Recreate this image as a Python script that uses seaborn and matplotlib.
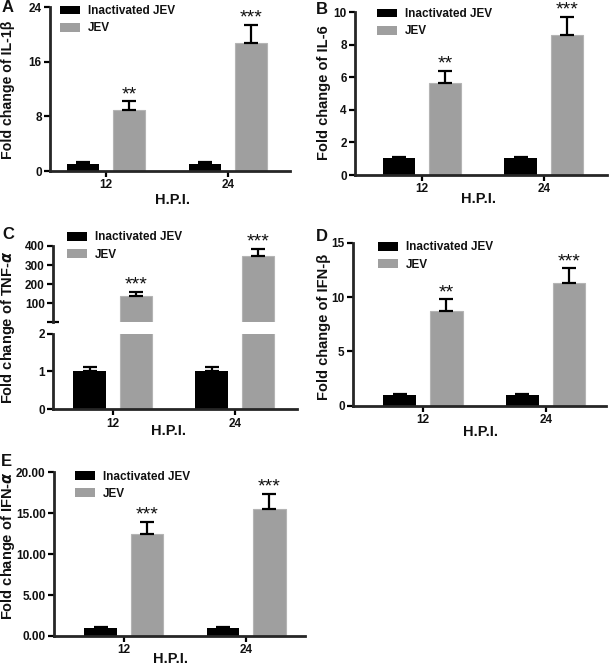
import numpy as np
import pandas as pd
import matplotlib
matplotlib.use('Agg')
import matplotlib.pyplot as plt
import matplotlib.ticker as ticker
import seaborn as sns

sns.set_style('ticks')
plt.rcParams['font.family'] = ['Liberation Sans', 'DejaVu Sans']
plt.rcParams['font.weight'] = 'bold'
plt.rcParams['text.color'] = '#111111'
plt.rcParams['xtick.color'] = 'black'
plt.rcParams['ytick.color'] = 'black'
plt.rcParams['xtick.labelcolor'] = '#111111'
plt.rcParams['ytick.labelcolor'] = '#111111'

# data
hpi = ['12', '24']
groups = ['Inactivated JEV', 'JEV']

il1b_inact = [1.05, 1.05]
il1b_inact_sem = [0.2, 0.2]
il1b_jev = [9.0, 18.8]
il1b_jev_sem = [1.2, 2.6]
il1b_stars = ['**', '***']

il6_inact = [1.02, 1.02]
il6_inact_sem = [0.1, 0.1]
il6_jev = [5.67, 8.59]
il6_jev_sem = [0.74, 1.14]
il6_stars = ['**', '***']

tnf_inact = [1.02, 1.02]
tnf_inact_sem = [0.1, 0.1]
tnf_jev = [138, 347]
tnf_jev_sem = [22, 39]
tnf_stars = ['***', '***']

ifnb_inact = [1.0, 1.0]
ifnb_inact_sem = [0.1, 0.1]
ifnb_jev = [8.74, 11.26]
ifnb_jev_sem = [1.05, 1.38]
ifnb_stars = ['**', '***']

ifna_inact = [1.0, 1.0]
ifna_inact_sem = [0.1, 0.1]
ifna_jev = [12.43, 15.56]
ifna_jev_sem = [1.54, 1.8]
ifna_stars = ['***', '***']

W, H = 609, 670
BLACK = '#000000'
GRAY = '#9f9f9f'

fig = plt.figure(figsize=(W / 100, H / 100), dpi=100)


def rect(left, top, right, bottom):
    return [left / W, 1 - bottom / H, (right - left) / W, (bottom - top) / H]


def draw_bars(ax, inact, inact_sem, jev, jev_sem, stars=None, err_for=(0, 1)):
    df = pd.DataFrame({'hpi': hpi * 2,
                       'group': [groups[0]] * 2 + [groups[1]] * 2,
                       'fold': inact + jev})
    sns.barplot(data=df, x='hpi', y='fold', hue='group', order=hpi,
                hue_order=groups, palette=[BLACK, GRAY], saturation=1,
                width=0.76, gap=0.3, errorbar=None, linewidth=0, ax=ax)
    conts = list(ax.containers[:2])
    for b in conts[1]:
        b.set_edgecolor('#b4b4b4')
        b.set_linewidth(0.8)
    sems = [inact_sem, jev_sem]
    for i in err_for:
        cont = conts[i]
        xs = [b.get_x() + b.get_width() / 2 for b in cont]
        ys = [b.get_height() for b in cont]
        ax.errorbar(xs, ys, yerr=[np.zeros(len(sems[i])), sems[i]], fmt='none',
                    ecolor='black', elinewidth=1.6, capsize=5, capthick=1.6,
                    zorder=1)
    if stars is not None:
        xs = [b.get_x() + b.get_width() / 2 for b in conts[1]]
        ys = [b.get_height() for b in conts[1]]
        for x, y, e, s in zip(xs, ys, jev_sem, stars):
            ax.annotate(s, xy=(x, y + e), xytext=(0, 1.5),
                        textcoords='offset points', ha='center',
                        va='baseline', fontsize=14, fontweight='normal')
    ax.set_xlabel('')
    ax.set_ylabel('')


def style_axes(ax, xlim):
    sns.despine(ax=ax)
    ax.spines['left'].set_linewidth(2)
    ax.spines['bottom'].set_linewidth(2)
    ax.tick_params(axis='both', width=1.6, length=4, labelsize=8.5, pad=2)
    ax.set_xlim(xlim)


def set_legend(ax, x, y):
    leg = ax.get_legend()
    handles = leg.legend_handles
    labels = [t.get_text() for t in leg.get_texts()]
    ax.legend(handles, labels, loc='upper left',
              bbox_to_anchor=(x / W, 1 - y / H), bbox_transform=fig.transFigure,
              frameon=False, prop={'weight': 'bold', 'size': 8.5},
              handlelength=1.7, handleheight=0.75, handletextpad=0.7,
              labelspacing=0.45, borderpad=0, borderaxespad=0)


def label(x, y, s, rot=0, size=10.5):
    fig.text(x / W, 1 - y / H, s, rotation=rot, ha='center', va='center',
             fontsize=size, fontweight='bold')


def letter(x, y, s):
    fig.text(x / W, 1 - y / H, s, ha='left', va='top', fontsize=12,
             fontweight='bold')


# A
ax = fig.add_axes(rect(50, 7, 290, 171))
draw_bars(ax, il1b_inact, il1b_inact_sem, il1b_jev, il1b_jev_sem, il1b_stars)
style_axes(ax, (-0.46, 1.51))
ax.set_ylim(0, 24)
ax.set_yticks([0, 8, 16, 24])
set_legend(ax, 60, 5)
label(8, 90, 'Fold change of IL-1β', rot=90, size=10.2)
label(172, 200, 'H.P.I.')
letter(2, 0, 'A')

# B
ax = fig.add_axes(rect(355, 12.3, 607, 175))
draw_bars(ax, il6_inact, il6_inact_sem, il6_jev, il6_jev_sem, il6_stars)
style_axes(ax, (-0.55, 1.52))
ax.set_ylim(0, 10)
ax.set_yticks([0, 2, 4, 6, 8, 10])
set_legend(ax, 377, 8)
label(324, 93, 'Fold change of IL-6', rot=90)
label(478, 199, 'H.P.I.')
letter(316, 2, 'B')

# C (broken axis)
ax_top = fig.add_axes(rect(53, 246, 297, 321.5))
draw_bars(ax_top, tnf_inact, tnf_inact_sem, tnf_jev, tnf_jev_sem, tnf_stars,
          err_for=(1,))
style_axes(ax_top, (-0.49, 1.51))
ax_top.spines['bottom'].set_visible(False)
ax_top.tick_params(axis='x', bottom=False, labelbottom=False)
ax_top.set_ylim(5, 400)
ax_top.set_yticks([100, 200, 300, 400])
ax_top.yaxis.set_minor_locator(ticker.FixedLocator([5]))
ax_top.tick_params(axis='y', which='minor', direction='inout', length=8, width=1.6)
set_legend(ax_top, 67, 231.5)

ax_bot = fig.add_axes(rect(53, 333.5, 297, 409.3))
draw_bars(ax_bot, tnf_inact, tnf_inact_sem, tnf_jev, tnf_jev_sem, err_for=(0,))
ax_bot.get_legend().remove()
style_axes(ax_bot, (-0.49, 1.51))
ax_bot.set_ylim(0, 2)
ax_bot.set_yticks([0, 1, 2])
ax_bot.yaxis.set_minor_locator(ticker.FixedLocator([2]))
ax_bot.tick_params(axis='y', which='minor', direction='inout', length=8, width=1.6)
label(8, 327, r'Fold change of TNF-$\alpha$', rot=90)
label(168, 431, 'H.P.I.')
letter(2, 227, 'C')

# D
ax = fig.add_axes(rect(353, 242.7, 606, 405.7))
draw_bars(ax, ifnb_inact, ifnb_inact_sem, ifnb_jev, ifnb_jev_sem, ifnb_stars)
style_axes(ax, (-0.57, 1.49))
ax.set_ylim(0, 15)
ax.set_yticks([0, 5, 10, 15])
set_legend(ax, 378, 241.5)
label(324, 327, 'Fold change of IFN-β', rot=90)
label(480, 432.5, 'H.P.I.')
letter(316, 229, 'D')

# E
ax = fig.add_axes(rect(54, 472.3, 305, 636))
draw_bars(ax, ifna_inact, ifna_inact_sem, ifna_jev, ifna_jev_sem, ifna_stars)
style_axes(ax, (-0.57, 1.48))
ax.set_ylim(0, 20)
ax.set_yticks([0, 5, 10, 15, 20])
ax.yaxis.set_major_formatter(ticker.FormatStrFormatter('%.2f'))
set_legend(ax, 75, 470.5)
label(8, 546, r'Fold change of IFN-$\alpha$', rot=90)
label(171, 659, 'H.P.I.')
letter(1, 454, 'E')

fig.savefig('out.png', dpi=100)
